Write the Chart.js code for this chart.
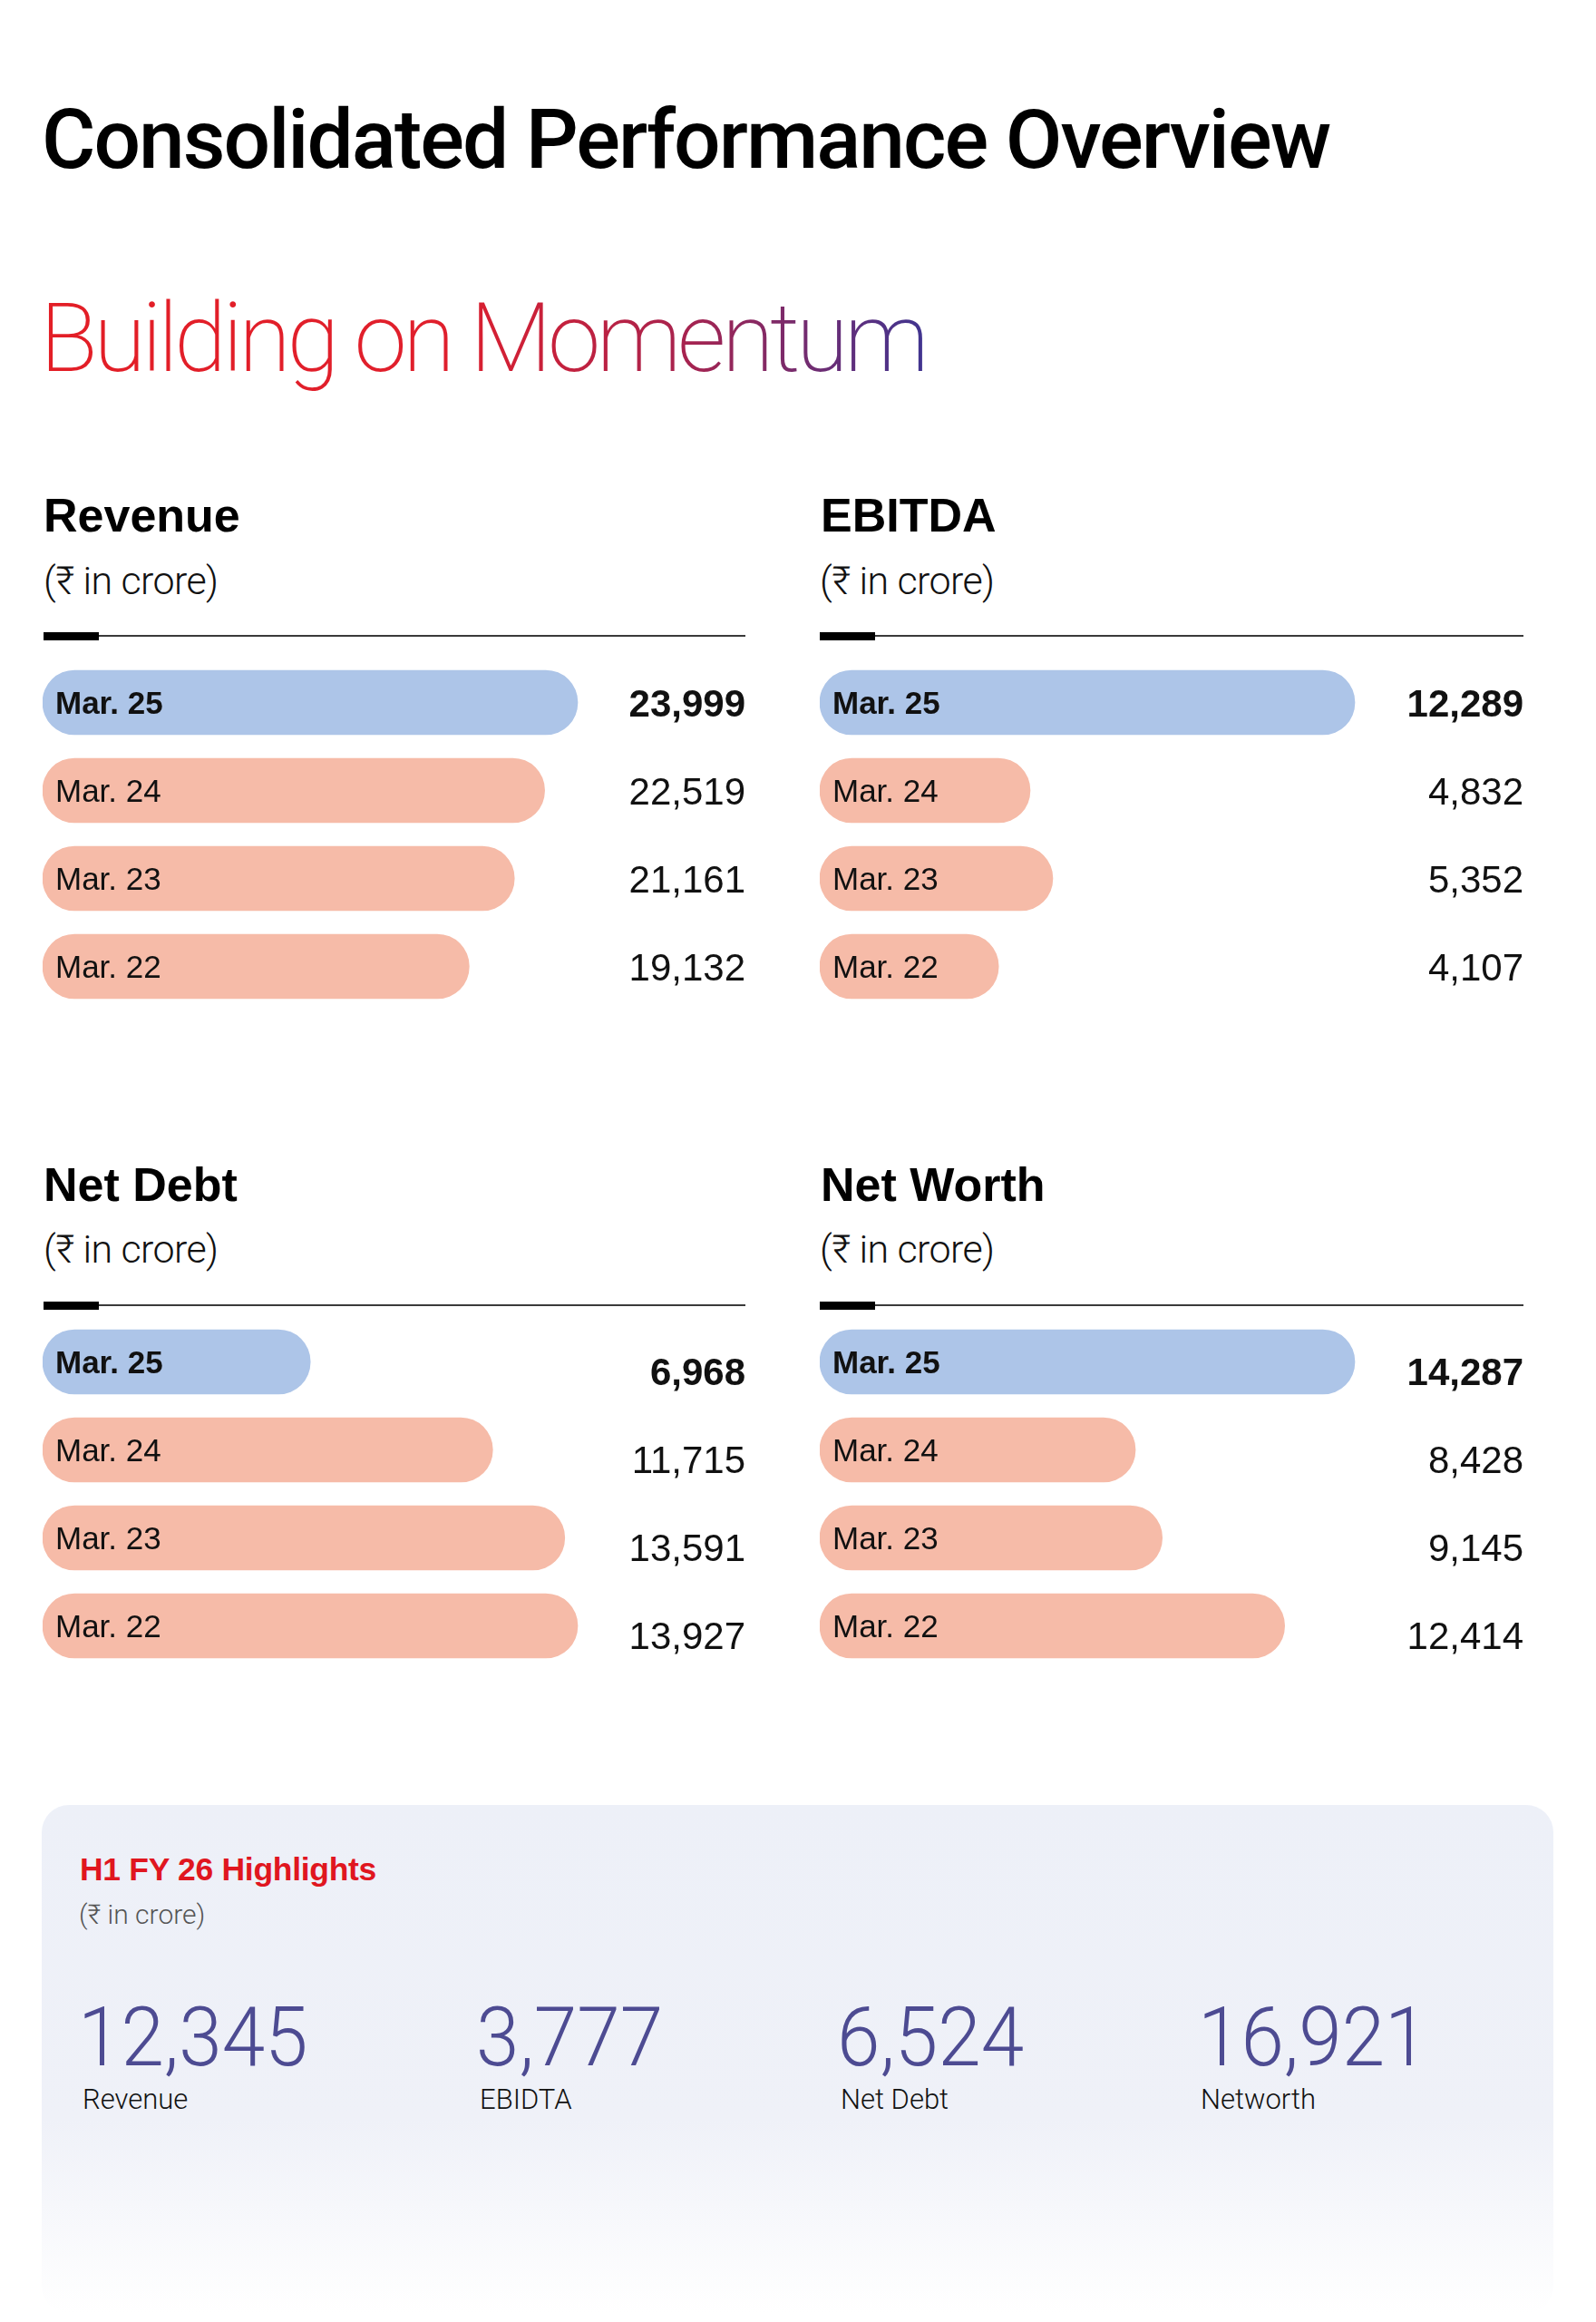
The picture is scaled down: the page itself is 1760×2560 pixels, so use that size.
<!DOCTYPE html>
<html>
<head>
<meta charset="utf-8">
<script src="https://cdn.jsdelivr.net/npm/chart.js@4.4.1/dist/chart.umd.min.js"></script>
<style>
  html, body { margin: 0; padding: 0; background: #fff; }
  body { width: 1760px; height: 2560px; position: relative; overflow: hidden; font-family: "Liberation Sans", Arial, sans-serif; }
  .abs { position: absolute; line-height: 1; white-space: nowrap; }
  .title { left: 46px; top: 109px; font-family: Roboto, "Liberation Sans", sans-serif; font-weight: 500; font-size: 91px; letter-spacing: -2px; color: #000; }
  .subtitle { left: 44px; top: 311px; font-family: Roboto, "Liberation Sans", sans-serif; font-weight: 200; font-size: 105px; letter-spacing: -4.5px; line-height: 1.2;
    background: linear-gradient(90deg, #e31e26 0%, #e01f2c 45%, #a8234e 72%, #3d3592 100%);
    -webkit-background-clip: text; background-clip: text; color: transparent; padding-right: 8px; }
  .ptitle { font-weight: 700; font-size: 52px; color: #000; }
  .punit { font-family: Roboto, "Liberation Sans", sans-serif; font-weight: 300; font-size: 43px; letter-spacing: -0.6px; color: #111; }
  .rule { position: absolute; height: 2px; background: #3a3a3a; }
  .rule::before { content: ""; position: absolute; left: 0; top: -3px; width: 61px; height: 9px; background: #000; }
  canvas { position: absolute; }
  .box { position: absolute; left: 46px; top: 1990px; width: 1667px; height: 560px; border-radius: 30px;
    background: linear-gradient(180deg, #edf0f8 0%, #eff1f8 62%, #ffffff 100%); }
  .htitle { left: 88px; top: 2044px; font-weight: 700; font-size: 35.5px; color: #e0161f; letter-spacing: -0.3px; }
  .hunit { left: 87px; top: 2096px; font-family: Roboto, "Liberation Sans", sans-serif; font-weight: 300; font-size: 30px; color: #555; }
  .hval { font-family: Roboto, "Liberation Sans", sans-serif; font-weight: 300; font-size: 90px; color: #4d4b92; transform: scaleX(0.95); transform-origin: left top; }
  .hlab { font-family: Roboto, "Liberation Sans", sans-serif; font-weight: 300; font-size: 31px; color: #111; }
</style>
</head>
<body>
<div class="abs title">Consolidated Performance Overview</div>
<div class="abs subtitle">Building on Momentum</div>

<div class="abs ptitle" style="left:48px; top:542px;">Revenue</div>
<div class="abs punit" style="left:48px; top:619px;">(₹ in crore)</div>
<div class="rule" style="left:48px; top:700px; width:774px;"></div>
<canvas id="revenueChart" width="775" height="388" style="left:47px; top:726px;"></canvas>

<div class="abs ptitle" style="left:905px; top:542px;">EBITDA</div>
<div class="abs punit" style="left:904px; top:619px;">(₹ in crore)</div>
<div class="rule" style="left:904px; top:700px; width:776px;"></div>
<canvas id="ebitdaChart" width="776" height="388" style="left:904px; top:726px;"></canvas>

<div class="abs ptitle" style="left:48px; top:1280px;">Net Debt</div>
<div class="abs punit" style="left:48px; top:1356px;">(₹ in crore)</div>
<div class="rule" style="left:48px; top:1438px; width:774px;"></div>
<canvas id="netDebtChart" width="775" height="388" style="left:47px; top:1453px;"></canvas>

<div class="abs ptitle" style="left:905px; top:1280px;">Net Worth</div>
<div class="abs punit" style="left:904px; top:1356px;">(₹ in crore)</div>
<div class="rule" style="left:904px; top:1438px; width:776px;"></div>
<canvas id="netWorthChart" width="776" height="388" style="left:904px; top:1453px;"></canvas>

<div class="box"></div>
<div class="abs htitle">H1 FY 26 Highlights</div>
<div class="abs hunit">(₹ in crore)</div>
<div id="highlights"></div>

<script>
// Periods, latest first
const periods = ['Mar. 25', 'Mar. 24', 'Mar. 23', 'Mar. 22'];

// ₹ in crore
const revenue = [23999, 22519, 21161, 19132];
const ebitda = [12289, 4832, 5352, 4107];
const netDebt = [6968, 11715, 13591, 13927];
const netWorth = [14287, 8428, 9145, 12414];

// H1 FY 26 highlights
const highlightLabels = ['Revenue', 'EBIDTA', 'Net Debt', 'Networth'];
const highlightValues = [12345, 3777, 6524, 16921];

const latestColor = '#adc5e8';
const pastColor = '#f6bba8';
const longestBar = 590; // px taken by the biggest bar in each panel

// draws period names inside the bars and values at the right edge
const barText = {
    id: 'barText',
    afterDatasetsDraw(chart, args, opts) {
        const ctx = chart.ctx;
        const meta = chart.getDatasetMeta(0);
        const values = chart.data.datasets[0].data;
        ctx.save();
        ctx.fillStyle = '#111';
        ctx.textBaseline = 'alphabetic';
        meta.data.forEach((bar, i) => {
            const weight = i === 0 ? 'bold ' : '';
            ctx.font = weight + '35px "Liberation Sans", Arial, sans-serif';
            ctx.textAlign = 'left';
            ctx.fillText(chart.data.labels[i], bar.base + 14, bar.y + 12.5);
            ctx.font = weight + '42px "Liberation Sans", Arial, sans-serif';
            ctx.textAlign = 'right';
            ctx.fillText(values[i].toLocaleString('en-US'), chart.chartArea.right, bar.y + 15 + opts.shift);
        });
        ctx.restore();
    }
};

function makeChart(id, values, shift) {
    const canvas = document.getElementById(id);
    return new Chart(canvas.getContext('2d'), {
        type: 'bar',
        data: {
            labels: periods,
            datasets: [{
                data: values,
                backgroundColor: values.map((v, i) => i === 0 ? latestColor : pastColor),
                barThickness: 71,
                borderRadius: 36,
                borderSkipped: false,
            }]
        },
        options: {
            indexAxis: 'y',
            responsive: false,
            animation: false,
            layout: { padding: 0 },
            plugins: {
                legend: { display: false },
                tooltip: { enabled: false },
                barText: { shift: shift }
            },
            scales: {
                x: { display: false, min: 0, max: Math.max(...values) * canvas.width / longestBar },
                y: { display: false }
            }
        },
        plugins: [barText]
    });
}

makeChart('revenueChart', revenue, 0);
makeChart('ebitdaChart', ebitda, 0);
makeChart('netDebtChart', netDebt, 10);
makeChart('netWorthChart', netWorth, 10);

// highlight figures
const numX = [86, 525, 923, 1321];
const labX = [91, 529, 927, 1324];
const holder = document.getElementById('highlights');
highlightValues.forEach((v, i) => {
    const num = document.createElement('div');
    num.className = 'abs hval';
    num.style.left = numX[i] + 'px';
    num.style.top = '2202px';
    num.textContent = v.toLocaleString('en-US');
    holder.appendChild(num);
    const lab = document.createElement('div');
    lab.className = 'abs hlab';
    lab.style.left = labX[i] + 'px';
    lab.style.top = '2299px';
    lab.textContent = highlightLabels[i];
    holder.appendChild(lab);
});
</script>
</body>
</html>
